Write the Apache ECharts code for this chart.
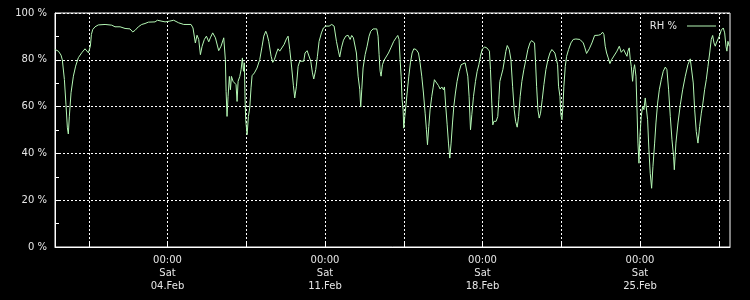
<!DOCTYPE html>
<html><head><meta charset="utf-8">
<script src="https://cdn.jsdelivr.net/npm/echarts@6/dist/echarts.min.js"></script>
<style>html,body{margin:0;padding:0;background:#000}#c{width:750px;height:300px}</style>
</head><body><div id="c"></div>
<script>
// hours since Mon 30.Jan 00:00
const hours = [0,3.6,6.4,7.8,10,11.7,13.2,14.2,15.3,17.1,19.6,22,24.9,28.5,32,33.8,35.6,36.6,37.7,38.8,40.2,42.7,46.2,53.4,60.5,64,69.4,74.7,80,82.9,85.4,88.9,92.5,96,99.6,106.7,109.2,111,117.4,
122,126.6,131.9,137.3,145.1,147.2,149.7,151.5,153.3,155.1,156.9,159.3,161.5,164,165.7,168.2,171.1,174.6,177.1,180,181.7,182.5,183.5,184.6,186,187.1,188.2,189.9,191.7,193.1,194.2,195.3,197.1,198.5,199.9,201,202,202.7,203.4,204.9,206.3,207.7,209.1,210.2,212.7,215.5,218.4,220.9,222.7,224.8,226.2,228,230.5,232.3,234,236.2,237.9,
239.7,241.8,244.3,246.8,248.6,250.4,252.5,254.3,255.7,257.5,259.3,261.1,263.2,265.3,266.7,268.9,271,272.8,274.6,276,278.1,279.9,281.7,284.2,286.3,288.8,292.4,295.2,297.7,300.2,302.3,303.7,305.5,307.7,310.1,312.6,314.8,316.5,318.3,319.4,321.5,323.3,325.1,326.1,327.2,328.6,330.8,332.9,335,336.8,339.3,343.2,344.6,345.7,346.8,347.8,349.3,351,352.8,355.7,358.2,
361.3,363.8,365.6,367,368.1,369.2,370.2,371.3,372,373.1,374.2,375.6,377.4,379.1,380.9,382.7,385.2,387.7,389.4,391.2,393,394.8,396.2,397.3,398.7,400.1,401.9,403.3,404.7,406.5,409,410.8,412.6,414.3,415.4,416.8,418.3,419.7,421.1,422.5,424,425.4,427.1,428.9,431.1,433.2,435,437.5,438.9,440.3,441.7,443.2,444.6,446.4,448.5,450.3,452.1,453.8,455.6,458.1,460.6,463.4,464.5,465.9,467,468.1,470.5,472.3,473.4,474.5,475.9,477.7,
479.3,480.8,482.4,484.5,486.3,488.1,489.8,491.3,493,494.5,496.2,498,500.1,502.3,504.4,506.6,508.3,510.1,511.5,512.6,513.7,515.1,516.5,517.9,519.7,521.5,523.6,525.8,527.9,530,531.5,533.2,535,536.1,537.1,538.6,539.6,540.7,541.8,542.8,544.3,545.7,547.8,550.3,552.8,555.6,559.9,563.5,565.2,567,569.9,572.7,575.6,579.5,582,584.1,585.5,586.9,588.4,590.1,591.9,593.7,595.5,
599.4,601.9,604,606.5,608.3,610.1,611.1,612.5,613.6,614.7,616.1,617.2,618.2,619.7,620.7,621.8,622.9,623.9,625.3,626.8,628.2,629.6,630.7,632.1,633.5,634.9,636.4,637.8,639.6,641,642.8,644.6,646.7,648.8,651,652.7,654.5,656.3,658.1,659.8,660.6,662.3,664.5,667,669.5,672.3,675.1,677.6,679.4,680.8,682.3,684,685.8,687.6,689.4,691.1,692.9,694.7,696.5,698.3,700,701.5,702.9,704.3,705.4,707.2,708.6,710.7,712.8,714.3,715.7,716.7,717.8,719.2];
const rh = [84.4,83.7,82,80,71.6,60.9,50.9,48.3,55.9,65.9,73,77.3,80.9,83,84.7,85.1,83,82.2,85.8,90.8,92.9,94.1,94.9,95.1,94.8,94.1,94.1,93.4,93.2,91.9,92.6,94.1,95.1,95.5,96.1,96.2,96.9,96.2,96.2,
96.5,96.9,95.8,95.1,95.1,93.6,87.2,90.5,88.7,82.2,85.8,88.7,90.1,87.7,89.4,91.5,89.4,83.9,85.8,89.4,80.1,66.5,55.8,64.4,72.9,67.2,72.9,70.8,71.5,69.4,62.2,70.8,72.9,75.8,80.8,75.1,78.7,63.7,54.4,48,55.8,59.4,68,73.2,74.4,76.5,80.1,85.8,90.1,92.2,90.8,87.9,81.5,78.9,80.1,82.9,84.7,
83.7,84.1,86.5,88.9,90.1,84.4,76.5,68.9,63.7,68.7,77.2,79.4,79.8,79.4,82.9,83.9,84.1,79.4,74.4,71.8,75.8,81.5,87.9,91.5,93.6,94.4,94.4,95.1,94.4,87.9,83.7,81.2,85.1,88.4,90.1,90.5,88.7,90.4,89.4,90.1,82.9,73,67.2,59.8,67.2,76.5,82.2,85.8,90.1,92.2,93.2,93.2,90.1,82.2,75.1,73,77.9,79.8,80.4,82.9,85.1,
87.9,89.4,90.4,88.7,80.1,73,63,58.7,50.8,55.8,60.1,65.8,73,78.7,82.9,84.7,84.4,82.9,78.7,73,65.8,57.2,50.1,43.7,51.5,58.7,64.4,68,71.5,70.8,69,67.5,68.4,67.2,68.4,60.1,52.2,44.4,38,44.4,53,60.1,65.8,70.8,75.1,77.9,78.7,78.7,77.9,73,64.4,50.1,56.5,64.4,70.8,75.1,77.9,81.5,84.4,85.5,85.1,83.7,75.8,61.5,52.2,53.7,53.7,55.8,63,70.8,73,75.8,
79.5,83.5,86.1,84.4,80.1,68.7,58.7,53.7,51.2,55.8,64.4,70.8,75.8,80.1,84.4,87.2,88.2,88.9,87.2,78.7,68.7,58.7,55.1,57.2,63,69.4,75.8,80.1,82.9,84.4,84.1,82.9,82.2,77.9,68.7,64.4,56.5,54.4,60.1,68.7,77.2,81.5,84.4,87.2,88.7,88.9,88.7,87.2,85.1,82.7,84.7,87.2,90.4,90.5,90.8,91.8,90.8,85.8,82.9,80.8,78.4,80.1,81.2,
83.7,85.8,83.2,84.4,82.9,81.5,83.7,85.1,80.1,77.2,70.8,75.8,77.9,73,60.1,44.4,35.8,47.3,55.8,60.1,58.7,63.7,63,54.4,41.5,31.5,25.1,34.4,44.4,53,61.5,67.2,71.5,75.1,76.9,75.8,67.2,55.8,45.8,38.7,33,44.4,53,60.8,67.2,73,77.9,80.4,80.8,70.1,58.7,49.4,44.4,51.5,57.2,61.5,67.2,71.5,77.2,82.9,88.7,90.4,87.2,85.8,87.2,87.9,90.1,92.7,93.6,91.5,85.8,83.7,87.9,85.8];
const seriesName = 'RH %';
const xGridHours = [36,120,204,288,372,456,540,624,708];
const xLabelHours = [120,288,456,624];
const xLabelTexts = ['00:00\nSat\n04.Feb','00:00\nSat\n11.Feb','00:00\nSat\n18.Feb','00:00\nSat\n25.Feb'];

const txt = '#e6e6e6';
const font = 'DejaVu Sans';
const lineColor = '#b4f7b4';
const chart = echarts.init(document.getElementById('c'), null, {renderer:'canvas'});
chart.setOption({
  backgroundColor:'#000',
  animation:false,
  grid:{left:55,right:20,top:13,bottom:53,show:true,borderColor:'#fff',borderWidth:1,backgroundColor:'transparent',outerBoundsMode:'none'},
  legend:{data:[seriesName],right:29,top:16,align:'right',icon:'rect',itemWidth:29,itemHeight:1,
    itemStyle:{color:lineColor},
    textStyle:{color:txt,fontFamily:font,fontSize:10,padding:[0,5,0,0]}},
  xAxis:{type:'value',min:0,max:720,
    axisLine:{show:true,lineStyle:{color:'#fff',width:1}},
    axisTick:{show:true,inside:true,length:4,customValues:xGridHours,lineStyle:{color:'#fff'}},
    axisLabel:{customValues:xLabelHours,color:txt,fontFamily:font,fontSize:10,lineHeight:13,margin:7,
      formatter:v=>{const i=xLabelHours.indexOf(v);return i>=0?xLabelTexts[i]:'';}},
    splitLine:{show:true,lineStyle:{color:'#fff',type:[2,2],width:1}}},
  yAxis:{type:'value',min:0,max:100,interval:20,
    axisLine:{show:true,lineStyle:{color:'#fff',width:1}},
    axisTick:{show:true,inside:true,length:4,lineStyle:{color:'#fff'}},
    minorTick:{show:true,splitNumber:2,length:4,lineStyle:{color:'#fff'}},
    axisLabel:{color:txt,fontFamily:font,fontSize:10,margin:8,formatter:'{value} %'},
    splitLine:{show:true,lineStyle:{color:'#fff',type:[2,2],width:1}}},
  series:[{name:seriesName,type:'line',showSymbol:false,symbol:'none',
    lineStyle:{color:lineColor,width:1},itemStyle:{color:lineColor},
    data:hours.map((h,i)=>[h,rh[i]])}]
});
</script></body></html>
